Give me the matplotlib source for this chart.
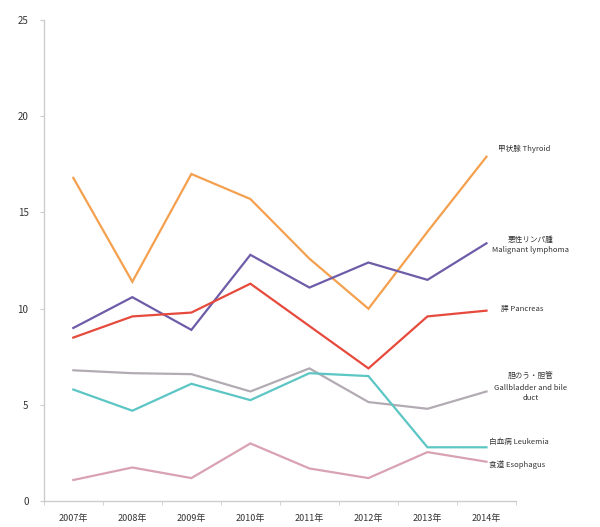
import matplotlib
matplotlib.use('Agg')
import matplotlib.pyplot as plt
from matplotlib.ticker import MultipleLocator

plt.rcParams['font.family'] = ['Noto Sans CJK JP', 'DejaVu Sans']

years = ['2007年', '2008年', '2009年', '2010年', '2011年', '2012年', '2013年', '2014年']

thyroid = [16.8, 11.4, 17.0, 15.7, 12.6, 10.0, 14.0, 17.9]
lymphoma = [9.0, 10.6, 8.9, 12.8, 11.1, 12.4, 11.5, 13.4]
pancreas = [8.5, 9.6, 9.8, 11.3, 9.1, 6.9, 9.6, 9.9]
gallbladder = [6.8, 6.65, 6.6, 5.7, 6.9, 5.15, 4.8, 5.7]
leukemia = [5.8, 4.7, 6.1, 5.25, 6.65, 6.5, 2.8, 2.8]
esophagus = [1.1, 1.75, 1.2, 3.0, 1.7, 1.2, 2.55, 2.05]

series = [
    (thyroid, '#F4A04E', '甲状腺 Thyroid'),
    (lymphoma, '#6E5CA8', '悪性リンパ腫\nMalignant lymphoma'),
    (pancreas, '#E64A3C', '膵 Pancreas'),
    (gallbladder, '#B3ABB3', '胆のう・胆管\nGallbladder and bile\nduct'),
    (leukemia, '#5CC6C4', '白血病 Leukemia'),
    (esophagus, '#D9A2B2', '食道 Esophagus'),
]

# label positions in data coords (x, y)
label_pos = [
    (7.2, 18.3),
    (7.75, 13.3),
    (7.25, 10.0),
    (7.75, 5.9),
    (7.05, 3.1),
    (7.05, 1.9),
]

fig = plt.figure(figsize=(6.0, 5.27), dpi=100, facecolor='white')
ax = fig.add_axes([0.073, 0.049, 0.787, 0.913])

x = list(range(len(years)))
for (vals, col, name), (lx, ly) in zip(series, label_pos):
    ax.plot(x, vals, color=col, lw=1.6, solid_joinstyle='miter')
    ax.text(lx, ly, name, fontsize=5.5, color='#333333',
            ha='center' if '\n' in name else 'left', va='center',
            linespacing=1.4)

ax.set_xlim(-0.5, 7.5)
ax.set_ylim(0, 25)
ax.yaxis.set_major_locator(MultipleLocator(5))
ax.set_xticks(x)
ax.set_xticklabels(years, fontsize=6.5, color='#333333')
ax.set_xticks([i + 0.5 for i in range(-1, 8)], minor=True)
ax.tick_params(axis='x', which='major', length=0, pad=9)
ax.tick_params(axis='x', which='minor', length=3, color='#CCCCCC')
ax.tick_params(axis='y', length=3, color='#CCCCCC', labelsize=7,
               labelcolor='#333333', pad=8)

for s in ['top', 'right']:
    ax.spines[s].set_visible(False)
for s in ['left', 'bottom']:
    ax.spines[s].set_color('#CCCCCC')
    ax.spines[s].set_linewidth(1.0)

fig.savefig('out.png', dpi=100)
